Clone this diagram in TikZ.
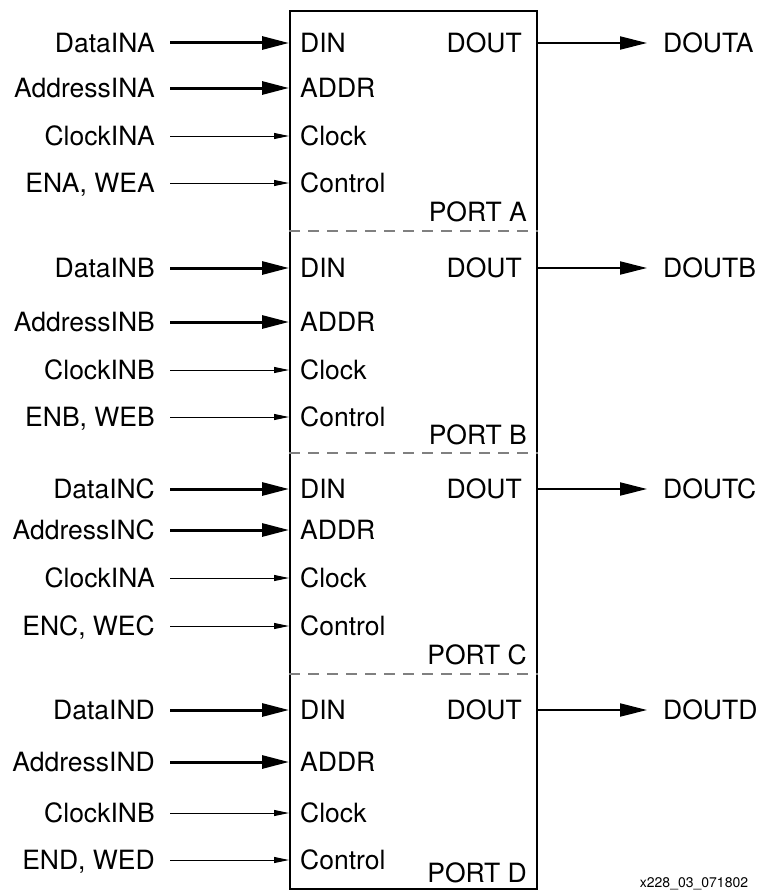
\documentclass[tikz,border=0pt]{standalone}
\usepackage{fontspec}
\setmainfont{TeX Gyre Heros}
\usetikzlibrary{arrows.meta}

\tikzset{
  lbl/.style={font=\fontsize{26.5}{31}\selectfont, inner sep=0pt,
    text height=18.5pt, text depth=0pt},
  bus/.style={line width=3pt, -{Triangle[length=27pt,width=13pt]}},
  wire/.style={line width=1pt, -{Triangle[length=15pt,width=6pt]}},
  outbus/.style={line width=2pt, -{Triangle[length=27pt,width=13pt]}},
  portsep/.style={line width=1.5pt, gray, dash pattern=on 11pt off 8pt}
}

\begin{document}
\begin{tikzpicture}[x=1pt,y=-1pt]
  \useasboundingbox (0,0) rectangle (760,891);
  % the four-port block
  \node[draw, line width=2pt, inner sep=0pt, anchor=north west,
    minimum width=247pt, minimum height=878pt] (mem) at (289,10) {};
  \foreach \y in {231,453,674}
    \draw[portsep] (mem.west |- 0,\y) -- (mem.east |- 0,\y);
  % one port per pass
  \foreach \p/\yd/\ya/\yc/\ye/\yp/\ck in {A/43/88/136/183/212/A,
      B/268/322/370/417/435/B, C/489/530/578/626/655/A,
      D/710/762/813/860/873/B}{
    \node[lbl, anchor=west] (din\p)  at (300,\yd) {DIN};
    \node[lbl, anchor=west] (addr\p) at (300,\ya) {ADDR};
    \node[lbl, anchor=west] (clk\p)  at (300,\yc) {Clock};
    \node[lbl, anchor=west] (ctl\p)  at (300,\ye) {Control};
    \node[lbl, anchor=east] (dout\p) at (522,\yd) {DOUT};
    \node[lbl, anchor=east] (port\p) at (527,\yp) {PORT \p};
    \node[lbl, anchor=east] (data\p) at (155,\yd) {DataIN\p};
    \node[lbl, anchor=east] (adin\p) at (155,\ya) {AddressIN\p};
    \node[lbl, anchor=east] (ckin\p) at (155,\yc) {ClockIN\ck};
    \node[lbl, anchor=east] (en\p)   at (155,\ye) {EN\p, WE\p};
    \node[lbl, anchor=west] (q\p)    at (663,\yd) {DOUT\p};
    \draw[bus, shorten <=15pt]  (data\p.east) -- (data\p.east -| mem.west);
    \draw[bus, shorten <=15pt]  (adin\p.east) -- (adin\p.east -| mem.west);
    \draw[wire, shorten <=15pt] (ckin\p.east) -- (ckin\p.east -| mem.west);
    \draw[wire, shorten <=15pt] (en\p.east)   -- (en\p.east -| mem.west);
    \draw[outbus, shorten >=16pt] (dout\p.east -| mem.east) -- (q\p.west);
  }
  \node[font=\fontsize{14}{16}\selectfont] (tag) at (694,884) {x228\_03\_071802};
\end{tikzpicture}
\end{document}
